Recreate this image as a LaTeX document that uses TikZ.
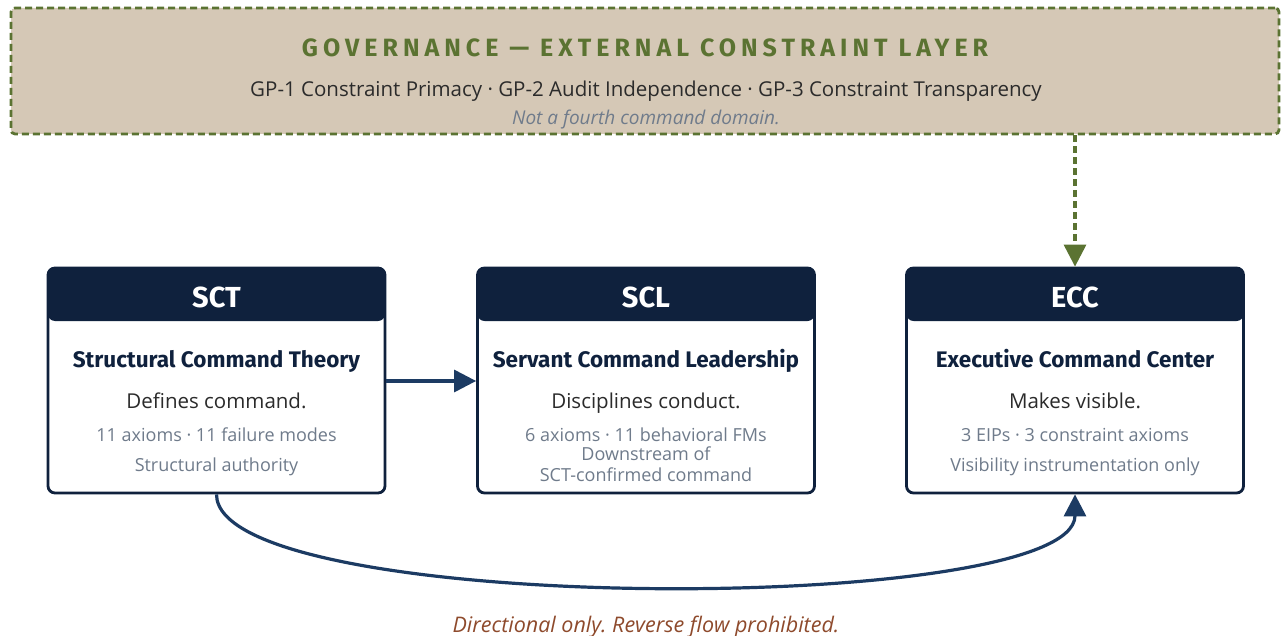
\documentclass[tikz,border=0pt]{standalone}
\usepackage{fontspec}
\setmainfont{Open Sans}
\newfontfamily\headfont{Fira Sans}
\usetikzlibrary{arrows.meta,positioning}
\definecolor{navy}{HTML}{0F213D}
\definecolor{flow}{HTML}{1C3B63}
\definecolor{govfill}{HTML}{D5C8B6}
\definecolor{govline}{HTML}{5B7332}
\definecolor{ink}{HTML}{2B2B2B}
\definecolor{muted}{HTML}{6F7B8B}
\definecolor{warn}{HTML}{8E4A2C}
\newcommand{\fs}[1]{\fontsize{#1}{#1}\selectfont}
\frenchspacing

\begin{document}
\begin{tikzpicture}[x=1pt, y=-1pt,
  card/.style={draw=navy, line width=2.8pt, rounded corners=7pt, fill=white,
    minimum width=337pt, minimum height=225pt, inner sep=0pt,
    path picture={\fill[navy] (path picture bounding box.north west)
      rectangle ([yshift=-53pt]path picture bounding box.north east);}},
  txt/.style={anchor=base, inner sep=0pt},
  hdr/.style={txt, text=white, font=\headfont\bfseries\fs{29}},
  ttl/.style={txt, text=navy, font=\headfont\bfseries\fs{22.5}},
  lead/.style={txt, text=ink, font=\fs{20.5}},
  meta/.style={txt, text=muted, font=\fs{18}},
  tip/.style={-{Triangle[length=22pt, width=22pt]}}]
  \useasboundingbox (0,0) rectangle (1281,636);
  % governance layer
  \node[draw=govline, fill=govfill, line width=2.8pt, dash pattern=on 7pt off 4pt,
    rounded corners=4pt, minimum width=1268pt, minimum height=126pt] (gov) at (645,71) {};
  \node[txt, text=govline, font=\headfont\bfseries\fs{25}\addfontfeature{LetterSpace=20}]
    (govtitle) at (645,57) {GOVERNANCE — EXTERNAL CONSTRAINT LAYER};
  \node[lead] (govrules) at (646,97)
    {GP-1 Constraint Primacy · GP-2 Audit Independence · GP-3 Constraint Transparency};
  \node[txt, text=muted, font=\itshape\fs{19}] (govnote) at (646,125) {Not a fourth command domain.};
  % command domains
  \node[card] (sct) at (216.5,380.5) {};
  \node[card] (scl) at (646,380.5) {};
  \node[card] (ecc) at (1075,380.5) {};
  \node[hdr] at (216.5,307) {SCT};
  \node[hdr] at (646,307) {SCL};
  \node[hdr] at (1075,307) {ECC};
  \node[ttl] at (216.5,367) {Structural Command Theory};
  \node[ttl] at (646,367) {Servant Command Leadership};
  \node[ttl] at (1075,367) {Executive Command Center};
  \node[lead] at (216.5,408) {Defines command.};
  \node[lead] at (646,408) {Disciplines conduct.};
  \node[lead] at (1075,408) {Makes visible.};
  \node[meta] at (216.5,441) {11 axioms · 11 failure modes};
  \node[meta] at (216.5,471) {Structural authority};
  \node[meta] at (646,441) {6 axioms · 11 behavioral FMs};
  \node[meta] at (646,460) {Downstream of};
  \node[meta] at (646,481.5) {SCT-confirmed command};
  \node[meta] at (1075,441) {3 EIPs · 3 constraint axioms};
  \node[meta] at (1075,471) {Visibility instrumentation only};
  % flows
  \draw[tip, draw=flow, line width=3.2pt] (sct.east |- 0,381) -- (scl.west |- 0,381);
  \draw[tip, draw=govline, line width=3.2pt, dash pattern=on 7pt off 4pt]
    (gov.south -| ecc.north) -- (ecc.north);
  \draw[tip, draw=flow, line width=3.2pt]
    (sct.south) .. controls +(0,122) and +(0,122) .. (ecc.south);
  \node[txt, text=warn, font=\itshape\fs{21.5}] (revnote) at (646,632) {Directional only. Reverse flow prohibited.};
\end{tikzpicture}
\end{document}
